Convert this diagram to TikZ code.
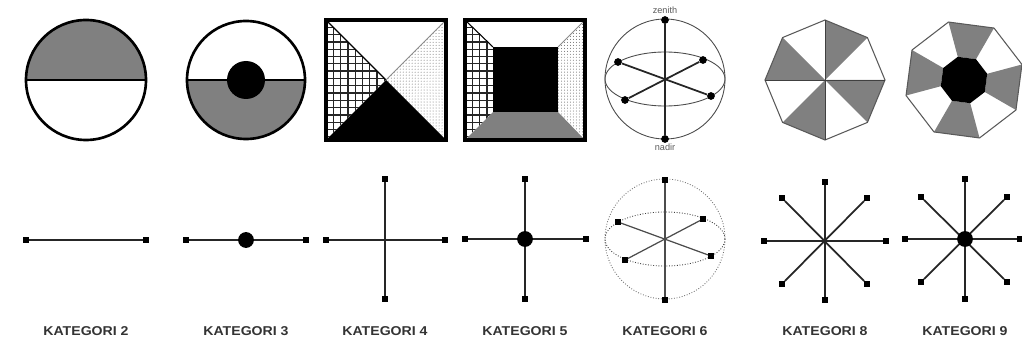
\documentclass[tikz,border=0pt]{standalone}
\usepackage{fontspec}
\setmainfont{Liberation Sans}
\usetikzlibrary{patterns.meta}

\tikzset{
  rim/.style={draw=black, line width=1.5pt},
  framerim/.style={draw=black, line width=1.9pt},
  spoke/.style={draw=black!85, line width=1pt},
  thinspoke/.style={draw=black!70, line width=0.7pt},
  tip/.style={rectangle, fill=black, inner sep=0pt, minimum size=3pt},
  roundtip/.style={circle, fill=black, inner sep=0pt, minimum size=4.4pt},
  hub/.style={circle, fill=black, inner sep=0pt, minimum size=9pt},
  caption/.style={font=\bfseries\fontsize{7.3}{9}\selectfont, text=black!80, xscale=1.1},
  tiny/.style={font=\fontsize{5.2}{6}\selectfont, text=black!65},
  midgrey/.style={fill=black!50},
  hatchline/.style={draw=black!85, line width=0.7pt},
  dotsfill/.style={pattern={Dots[distance=1.7pt, radius=0.28pt]}, pattern color=black!60},
}

\begin{document}
\begin{tikzpicture}[x=0.02cm, y=-0.02cm]
  \useasboundingbox (0,0) rectangle (1022,341);

  % circles
  \fill[midgrey] (26,80) arc[start angle=180, end angle=360, radius=60];
  \draw[rim] (86,80) circle (60);
  \draw[rim] (26,80) -- (146,80);

  \fill[midgrey] (187,80) arc[start angle=180, end angle=0, radius=59];
  \draw[rim] (246,80) circle (59);
  \draw[rim] (187,80) -- (305,80);
  \fill (246,80) circle (19);

  % square with four triangles
  \begin{scope}
    \clip (326,20) -- (386,80) -- (326,140) -- cycle;
    \foreach \i in {0,...,8} {
      \draw[hatchline] (326+7.3*\i,20) -- (326+7.3*\i,140);
    }
    \foreach \i in {0,...,16} {
      \draw[hatchline] (326,20+7.3*\i) -- (386,20+7.3*\i);
    }
  \end{scope}
  \fill[dotsfill] (446,20) -- (386,80) -- (446,140) -- cycle;
  \fill (326,140) -- (386,80) -- (446,140) -- cycle;
  \draw[line width=0.7pt] (326,20) -- (386,80);
  \draw[draw=black!45, line width=0.5pt] (446,20) -- (386,80);
  \draw[framerim] (326,20) rectangle (446,140);

  % square with core
  \begin{scope}
    \clip (465,20) -- (493,47) -- (493,112) -- (465,140) -- cycle;
    \foreach \i in {0,...,4} {
      \draw[hatchline] (465+7.3*\i,20) -- (465+7.3*\i,140);
    }
    \foreach \i in {0,...,16} {
      \draw[hatchline] (465,20+7.3*\i) -- (493,20+7.3*\i);
    }
  \end{scope}
  \fill[dotsfill] (585,20) -- (558,47) -- (558,112) -- (585,140) -- cycle;
  \fill[midgrey] (465,140) -- (493,112) -- (558,112) -- (585,140) -- cycle;
  \draw[line width=0.6pt] (465,20) -- (493,47);
  \draw[draw=black!45, line width=0.5pt] (585,20) -- (558,47);
  \fill (493,47) rectangle (558,112);
  \draw[framerim] (465,20) rectangle (585,140);

  % sphere
  \draw[draw=black!70, line width=0.5pt] (665,79) circle (60);
  \draw[draw=black!70, line width=0.5pt] (665,79) ellipse (60 and 27);
  \node[roundtip] (zen) at (665,20) {};
  \node[roundtip] (nad) at (665,139) {};
  \node[roundtip] (sa) at (618,62) {};
  \node[roundtip] (sb) at (703,60) {};
  \node[roundtip] (sc) at (625,100) {};
  \node[roundtip] (sd) at (711,96) {};
  \draw[spoke] (zen) -- (nad);
  \draw[spoke] (sa) -- (sd);
  \draw[spoke] (sb) -- (sc);
  \node[tiny] (zenlabel) at (665,10) {zenith};
  \node[tiny] (nadlabel) at (665,147) {nadir};

  % octagons
  \begin{scope}[shift={(825,80)}]
    \foreach \a in {-90,0,90,180} {
      \fill[midgrey] (0,0) -- (\a:60) -- (\a+45:60) -- cycle;
    }
    \draw[draw=black!65, line width=0.6pt] (-90:60) \foreach \a in {-45,0,...,225} { -- (\a:60) } -- cycle;
    \draw[line width=0.5pt, draw=black!75] (-90:60) -- (90:60) (180:60) -- (0:60);
  \end{scope}

  \begin{scope}[shift={(964,80)}]
    \foreach \a in {-105,-15,75,165} {
      \fill[midgrey] (\a:24) -- (\a:60) -- (\a+45:60) -- (\a+45:24) -- cycle;
    }
    \draw[draw=black!65, line width=0.6pt] (-105:60) \foreach \a in {-60,-15,...,210} { -- (\a:60) } -- cycle;
    \fill (-105:24) \foreach \a in {-60,-15,...,210} { -- (\a:24) } -- cycle;
  \end{scope}

  % lower row
  \node[tip] (a2l) at (26,240) {};
  \node[tip] (a2r) at (146,240) {};
  \draw[spoke] (a2l) -- (a2r);

  \node[tip] (a3l) at (186,240) {};
  \node[tip] (a3r) at (306,240) {};
  \draw[spoke] (a3l) -- (a3r);
  \node[hub] (a3c) at (246,240) {};

  \node[tip] (a4l) at (326,240) {};
  \node[tip] (a4r) at (445,240) {};
  \node[tip] (a4t) at (385,179) {};
  \node[tip] (a4b) at (385,299) {};
  \draw[spoke] (a4l) -- (a4r);
  \draw[spoke] (a4t) -- (a4b);

  \node[tip] (a5l) at (465,239) {};
  \node[tip] (a5r) at (586,239) {};
  \node[tip] (a5t) at (525,179) {};
  \node[tip] (a5b) at (525,299) {};
  \draw[spoke] (a5l) -- (a5r);
  \draw[spoke] (a5t) -- (a5b);
  \node[hub] (a5c) at (525,239) {};

  \draw[draw=black!55, line width=0.5pt, densely dotted] (665,239) circle (60);
  \draw[draw=black!75, line width=0.5pt, densely dotted] (665,239) ellipse (60 and 27);
  \node[tip] (a6t) at (665,180) {};
  \node[tip] (a6b) at (665,300) {};
  \node[tip] (a6p) at (618,222) {};
  \node[tip] (a6q) at (703,219) {};
  \node[tip] (a6r) at (625,260) {};
  \node[tip] (a6s) at (711,256) {};
  \draw[thinspoke] (a6t) -- (a6b);
  \draw[thinspoke] (a6p) -- (a6s);
  \draw[thinspoke] (a6q) -- (a6r);

  \node[tip] (a8n) at (825,182) {};
  \node[tip] (a8s) at (825,300) {};
  \node[tip] (a8w) at (764,241) {};
  \node[tip] (a8e) at (886,241) {};
  \node[tip] (a8nw) at (782,198) {};
  \node[tip] (a8ne) at (867,198) {};
  \node[tip] (a8sw) at (782,284) {};
  \node[tip] (a8se) at (867,284) {};
  \draw[spoke] (a8n) -- (a8s);
  \draw[spoke] (a8w) -- (a8e);
  \draw[spoke] (a8nw) -- (a8se);
  \draw[spoke] (a8ne) -- (a8sw);

  \node[tip] (a9n) at (965,179) {};
  \node[tip] (a9s) at (965,299) {};
  \node[tip] (a9w) at (905,239) {};
  \node[tip] (a9e) at (1020,239) {};
  \node[tip] (a9nw) at (921,197) {};
  \node[tip] (a9ne) at (1007,197) {};
  \node[tip] (a9sw) at (921,282) {};
  \node[tip] (a9se) at (1007,282) {};
  \draw[spoke] (a9n) -- (a9s);
  \draw[spoke] (a9w) -- (a9e);
  \draw[spoke] (a9nw) -- (a9se);
  \draw[spoke] (a9ne) -- (a9sw);
  \node[hub] (a9c) at (965,239) {};

  % captions
  \foreach \x/\n in {86/2, 246/3, 385/4, 525/5, 665/6, 825/8, 965/9} {
    \node[caption] (cap\n) at (\x,331) {KATEGORI \n};
  }
\end{tikzpicture}
\end{document}
